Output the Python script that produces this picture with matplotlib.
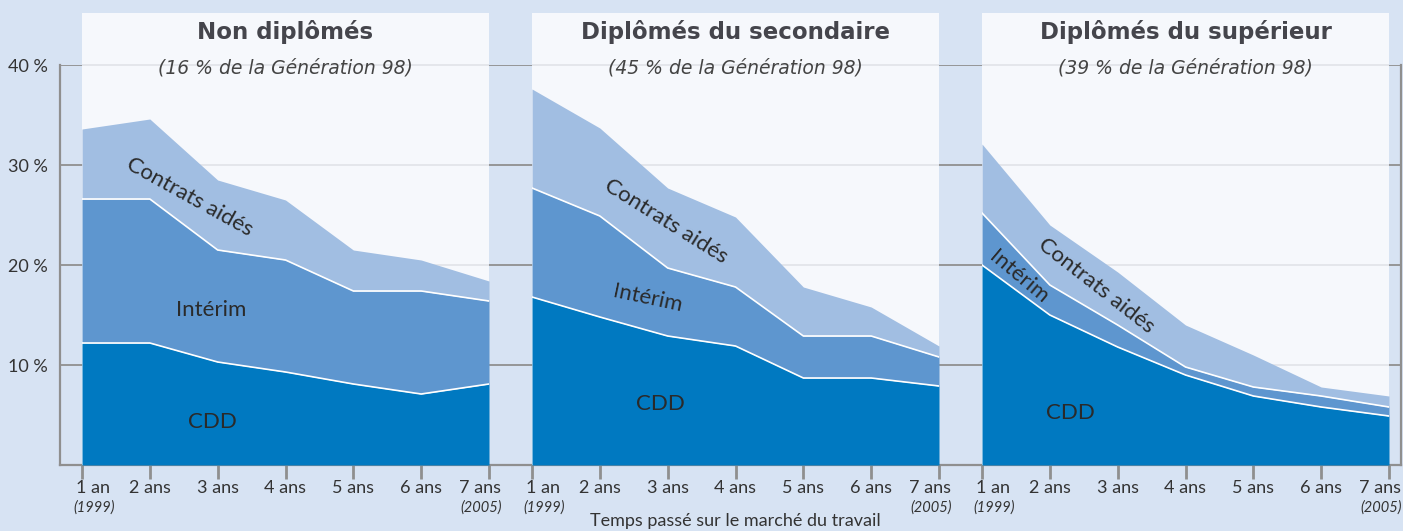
import matplotlib.pyplot as plt
from matplotlib import transforms

# Data: share of each contract type (in %) after 1 to 7 years on the job market
years = [1, 2, 3, 4, 5, 6, 7]
year_labels = ["1 an", "2 ans", "3 ans", "4 ans", "5 ans", "6 ans", "7 ans"]
titles = ["Non diplômés", "Diplômés du secondaire", "Diplômés du supérieur"]
subtitles = ["(16 % de la Génération 98)", "(45 % de la Génération 98)",
             "(39 % de la Génération 98)"]

cdd_non = [12.2, 12.2, 10.3, 9.3, 8.1, 7.1, 8.1]
interim_non = [14.4, 14.4, 11.2, 11.2, 9.3, 10.3, 8.3]
aides_non = [7.0, 8.0, 7.0, 6.0, 4.1, 3.1, 2.0]

cdd_sec = [16.8, 14.8, 12.9, 11.9, 8.7, 8.7, 7.9]
interim_sec = [10.9, 10.1, 6.8, 5.9, 4.2, 4.2, 2.9]
aides_sec = [9.9, 8.8, 8.0, 7.0, 4.9, 2.9, 1.1]

cdd_sup = [20.0, 15.0, 11.8, 9.0, 6.9, 5.8, 4.9]
interim_sup = [5.2, 3.0, 2.2, 0.8, 0.9, 1.1, 0.9]
aides_sup = [6.9, 6.0, 5.3, 4.2, 3.2, 0.9, 1.1]

panels = [(cdd_non, interim_non, aides_non),
          (cdd_sec, interim_sec, aides_sec),
          (cdd_sup, interim_sup, aides_sup)]

# label placement (x, y, rotation) for Contrats aidés / Intérim / CDD
label_pos = [
    [(2.59, 26.8, -29), (2.90, 15.5, 0), (2.93, 4.3, 0)],
    [(2.98, 24.4, -32), (2.71, 16.7, -12), (2.89, 6.1, 0)],
    [(2.68, 17.9, -38), (1.55, 18.8, -40), (2.30, 5.2, 0)],
]

col_cdd = "#0079c1"
col_interim = "#5e96cf"
col_aides = "#a1bee2"
bg = "#d7e3f3"
panel_bg = "#f6f8fc"
axis_grey = "#8f8f8f"
text_col = "#2a2a2a"

W, H = 1403, 531


def rect(x0, y0, x1, y1):
    # pixel box -> figure fraction
    return [x0 / W, 1 - y1 / H, (x1 - x0) / W, (y1 - y0) / H]


fig = plt.figure(figsize=(W / 100, H / 100), dpi=100, facecolor=bg)

# Outer frame with the y scale
frame = fig.add_axes(rect(60, 65, 1401, 465))
frame.set_facecolor("none")
frame.set_ylim(0, 40)
frame.set_xlim(0, 1)
frame.spines["top"].set_visible(False)
for s in ["left", "right", "bottom"]:
    frame.spines[s].set_color(axis_grey)
    frame.spines[s].set_linewidth(1.6)
for v in [10, 20, 30, 40]:
    frame.axhline(v, color=axis_grey, lw=1.3)
frame.set_xticks([])
frame.set_yticks([10, 20, 30, 40])
frame.set_yticklabels(["10 %", "20 %", "30 %", "40 %"], fontfamily="Lato",
                      fontsize=13, color="#333333")
frame.tick_params(axis="y", length=0, pad=9, right=False)

panel_x = [82, 532, 982]
for i, (cdd, interim, aides) in enumerate(panels):
    x0 = panel_x[i]
    ax = fig.add_axes(rect(x0, 13, x0 + 407, 465))
    ax.set_facecolor(panel_bg)
    ax.set_xlim(1, 7)
    ax.set_ylim(0, 45.2)
    for s in ax.spines.values():
        s.set_visible(False)
    for v in [10, 20, 30, 40]:
        ax.axhline(v, color="#e4e6eb", lw=1.4, zorder=0)

    # Stacked areas
    top1 = [a for a in cdd]
    top2 = [a + b for a, b in zip(cdd, interim)]
    top3 = [a + b for a, b in zip(top2, aides)]
    ax.fill_between(years, 0, top1, color=col_cdd, lw=0, zorder=2)
    ax.fill_between(years, top1, top2, color=col_interim, lw=0, zorder=2)
    ax.fill_between(years, top2, top3, color=col_aides, lw=0, zorder=2)
    ax.plot(years, top1, color="white", lw=1.2, zorder=3)
    ax.plot(years, top2, color="white", lw=1.2, zorder=3)

    # Labels inside the areas
    names = ["Contrats aidés", "Intérim", "CDD"]
    for name, (lx, ly, rot) in zip(names, label_pos[i]):
        ax.text(lx, ly, name, fontfamily="Lato", fontsize=16, color=text_col,
                rotation=rot, ha="center", va="center", zorder=4,
                rotation_mode="anchor")

    # Titles
    ax.text(0.5, 1 - 19 / 452, titles[i], transform=ax.transAxes, ha="center",
            va="center", fontfamily="DejaVu Sans", fontweight="bold",
            fontsize=16.5, color="#45454c")
    ax.text(0.5, 1 - 55 / 452, subtitles[i], transform=ax.transAxes,
            ha="center", va="center", fontfamily="DejaVu Sans",
            style="italic", fontsize=13.5, color="#444444")

    # x ticks
    ax.set_xticks(years)
    ax.set_xticklabels([])
    ax.tick_params(axis="x", direction="out", length=10, width=2,
                   color=axis_grey)
    ax.tick_params(axis="y", left=False, labelleft=False)

    xt = transforms.blended_transform_factory(ax.transData, ax.transAxes)
    for j, (yr, lab) in enumerate(zip(years, year_labels)):
        dx = 0
        if j == 0:
            dx = 11
        elif j == len(years) - 1:
            dx = -9
        tr = xt + transforms.ScaledTranslation(dx / 100, 0, fig.dpi_scale_trans)
        ax.text(yr, -23 / 452, lab, transform=tr, ha="center", va="center",
                fontfamily="Lato", fontsize=13, color="#333333", clip_on=False)
    tr0 = xt + transforms.ScaledTranslation(12 / 100, 0, fig.dpi_scale_trans)
    tr1 = xt + transforms.ScaledTranslation(-8 / 100, 0, fig.dpi_scale_trans)
    ax.text(years[0], -43 / 452, "(1999)", transform=tr0, ha="center",
            va="center", fontfamily="Lato", style="italic", fontsize=10.5,
            color="#333333", clip_on=False)
    ax.text(years[-1], -43 / 452, "(2005)", transform=tr1, ha="center",
            va="center", fontfamily="Lato", style="italic", fontsize=10.5,
            color="#333333", clip_on=False)

    if i == 1:
        ax.text(0.5, -56 / 452, "Temps passé sur le marché du travail",
                transform=ax.transAxes, ha="center", va="center",
                fontfamily="Lato", fontsize=13, color="#333333")

plt.savefig("out.png", dpi=100, facecolor=bg)
